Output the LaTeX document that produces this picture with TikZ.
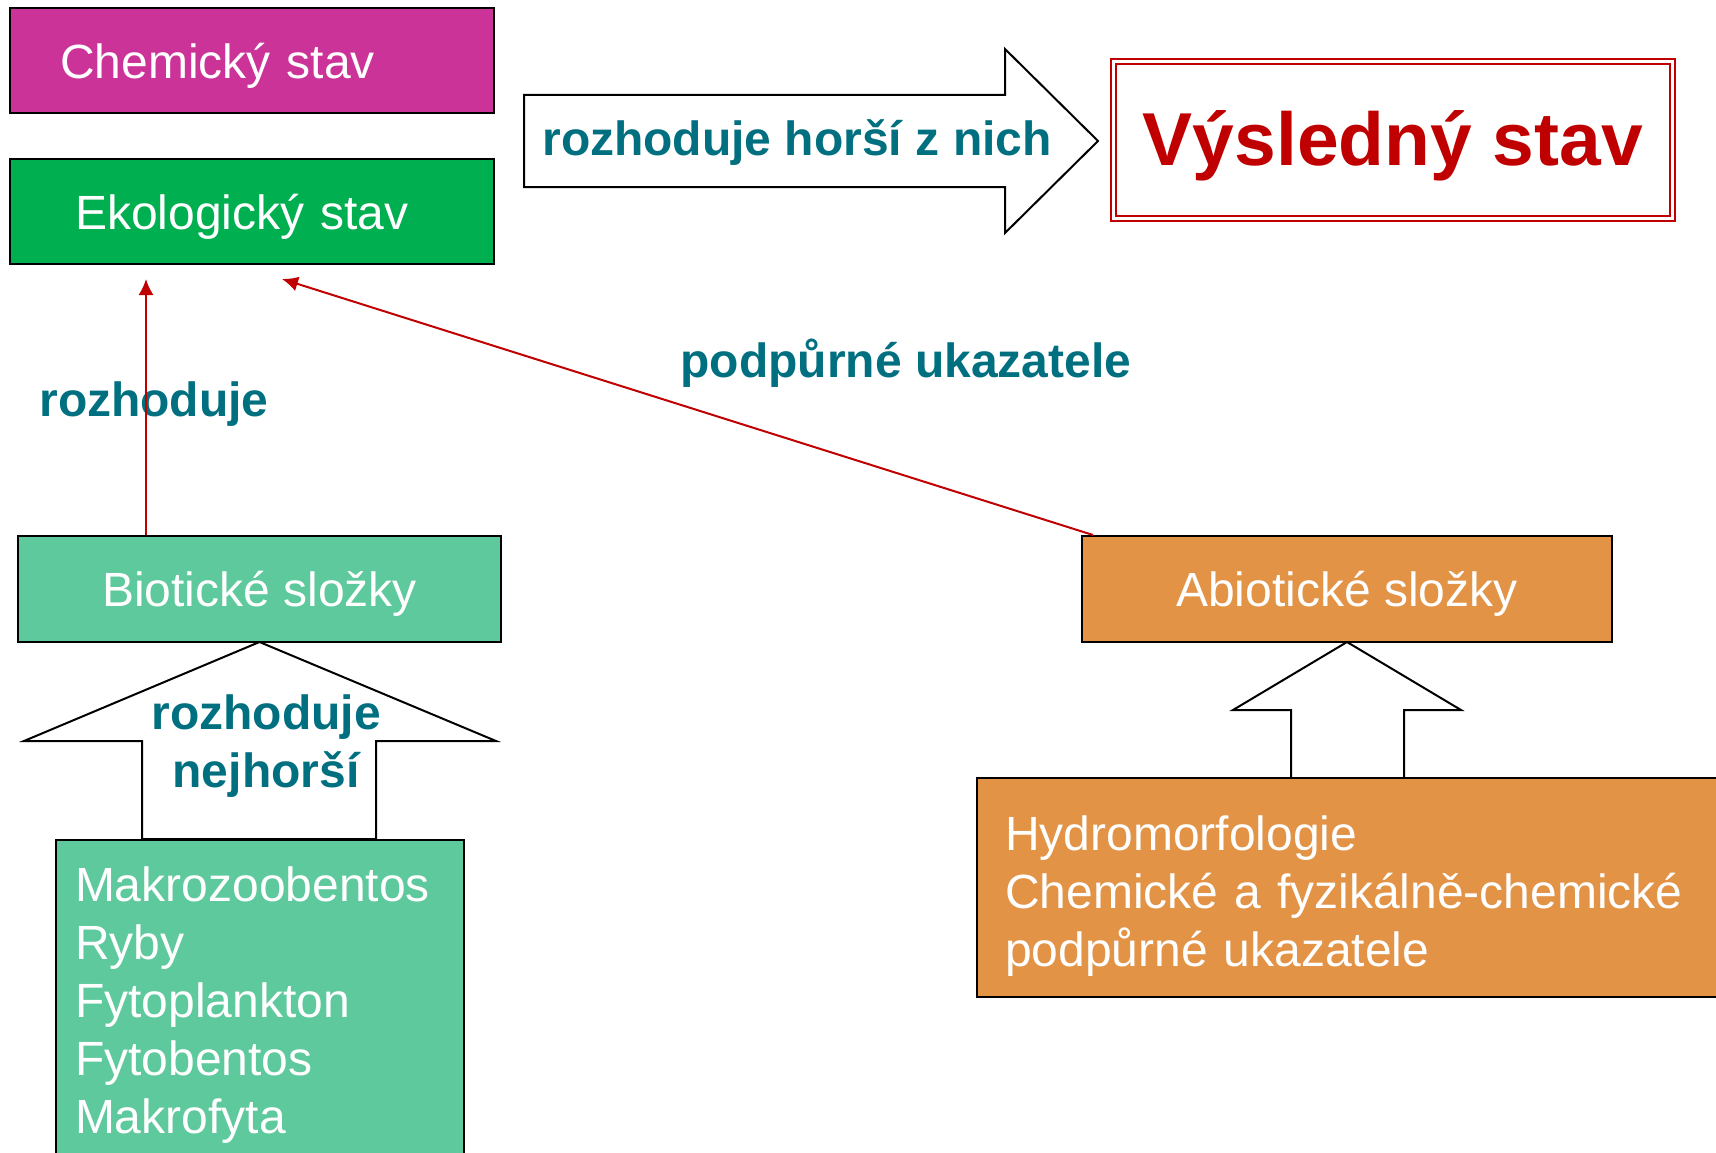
\documentclass[tikz,border=0pt]{standalone}
\usepackage{fontspec}
\setmainfont{Liberation Sans}
\usetikzlibrary{arrows.meta,calc}
\definecolor{magentabox}{RGB}{204,51,153}
\definecolor{greenbox}{RGB}{0,176,80}
\definecolor{lightgreen}{RGB}{95,201,158}
\definecolor{orangebox}{RGB}{226,147,70}
\definecolor{tealtext}{RGB}{0,112,128}
\definecolor{darkred}{RGB}{192,0,0}
\begin{document}
\begin{tikzpicture}[x=1pt,y=-1pt,
  box/.style={draw=black, line width=2pt, rectangle, inner sep=0pt, text=white,
    font=\fontsize{48}{58}\selectfont},
  lbl/.style={text=tealtext, font=\bfseries\fontsize{48}{58}\selectfont, inner sep=0pt},
  conn/.style={draw=darkred, line width=2pt, -{Latex[length=16pt,width=15pt]}},
  blockarrow/.style={draw=black, line width=2pt, fill=white, line join=miter}]
\useasboundingbox (0,0) rectangle (1716,1153);
\clip (0,0) rectangle (1716,1153);

% block arrows (shapes)
\draw[blockarrow] (524,95) -- (1005,95) -- (1005,49) -- (1098,141) -- (1005,233)
  -- (1005,187) -- (524,187) -- cycle;
\draw[blockarrow] (259.5,642) -- (496,741) -- (376,741) -- (376,839) -- (142,839)
  -- (142,741) -- (24,741) -- cycle;
\draw[blockarrow] (1347,642) -- (1461,710) -- (1404,710) -- (1404,778) -- (1291,778)
  -- (1291,710) -- (1233,710) -- cycle;

% boxes
\node[box, fill=magentabox, minimum height=105pt, text width=384pt, inner xsep=50pt,
  text depth=0pt, align=left] (chem) at (252,60.5) {Chemický stav};
\node[box, fill=greenbox, minimum height=105pt, text width=354pt, inner xsep=65pt,
  text depth=0pt, align=left] (eko) at (252,211.5) {Ekologický stav};
\node[box, fill=lightgreen, minimum width=483pt, minimum height=106pt, text depth=0pt]
  (bio) at (259.5,589) {Biotické složky};
\node[box, fill=orangebox, minimum width=530pt, minimum height=106pt, text depth=0pt]
  (abio) at (1347,589) {Abiotické složky};
\node[box, fill=lightgreen, anchor=north west, text width=370pt, inner xsep=19pt,
  inner ysep=27pt, align=left] (list) at (55,839)
  {Makrozoobentos\\Ryby\\Fytoplankton\\Fytobentos\\Makrofyta};
\node[box, fill=orangebox, minimum height=219pt, text width=704pt, inner xsep=28pt,
  align=left] (hydro) at (1357,887.5)
  {\rule{0pt}{51pt}Hydromorfologie\\Chemické a fyzikálně-chemické\\podpůrné ukazatele};
\node[draw=darkred, line width=2pt, double, double distance=3pt, minimum width=559pt,
  minimum height=157pt, inner sep=0pt, text=darkred, text depth=4pt,
  font=\bfseries\fontsize{75}{90}\selectfont] (vysl) at (1393,140) {Výsledný stav};

% labels
\node[lbl] (lbltop) at (797,143) {rozhoduje horší z nich};
\node[lbl] (lblroz) at (154,404) {rozhoduje};
\node[lbl] (lblpod) at (906,363) {podpůrné ukazatele};
\node[lbl, align=center] (lblnej) at (266,746) {rozhoduje\\nejhorší};

% connectors
\coordinate (ekoA) at (146,279);
\coordinate (ekoB) at (282,279);
\draw[conn] (bio.north -| ekoA) -- (ekoA);
\draw[conn] ([xshift=12pt]abio.north west) -- (ekoB);
\end{tikzpicture}
\end{document}
